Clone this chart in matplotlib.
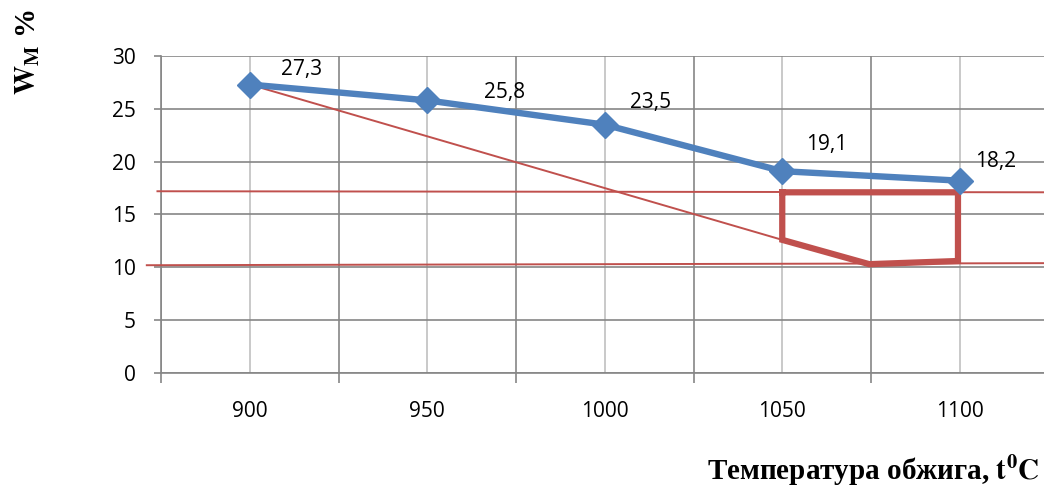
import matplotlib.pyplot as plt
import matplotlib as mpl

# water absorption vs firing temperature
temps = ["900", "950", "1000", "1050", "1100"]
absorption = [27.3, 25.8, 23.5, 19.1, 18.2]
value_labels = ["27,3", "25,8", "23,5", "19,1", "18,2"]

# hand-drawn red overlay (category index, value)
upper_limit_x = [-0.52, 4.6]
upper_limit_y = [17.2, 17.1]
lower_limit_x = [-0.58, 4.6]
lower_limit_y = [10.2, 10.4]
trend_x = [0.0, 3.0]
trend_y = [27.3, 12.6]
zone_x = [3.0, 3.0, 3.49, 3.99, 3.99, 3.0]
zone_y = [17.1, 12.6, 10.3, 10.6, 17.1, 17.1]

mpl.rcParams["mathtext.fontset"] = "stix"

fig = plt.figure(figsize=(10.44, 4.91), dpi=100)
ax = fig.add_axes([161 / 1044, 118 / 491, 887.5 / 1044, 317 / 491])

blue = "#4f81bd"
red = "#c0504d"
x = list(range(len(temps)))

ax.plot(x, absorption, color=blue, linewidth=4.6, marker="D", markersize=13,
        zorder=5, clip_on=False)

# label offsets in points from each marker
offsets = [(37, 11), (56, 6), (33, 16), (32, 19), (26, 14)]
for xi, yi, lab, off in zip(x, absorption, value_labels, offsets):
    ax.annotate(lab, (xi, yi), xytext=off, textcoords="offset points",
                ha="center", va="center", fontsize=15, family="Open Sans",
                zorder=6)

ax.plot(upper_limit_x, upper_limit_y, color=red, linewidth=1.4, clip_on=False, zorder=4)
ax.plot(lower_limit_x, lower_limit_y, color=red, linewidth=1.4, clip_on=False, zorder=4)
ax.plot(trend_x, trend_y, color=red, linewidth=1.4, zorder=4)
ax.plot(zone_x, zone_y, color=red, linewidth=4.5, solid_joinstyle="miter", zorder=4)

ax.set_xlim(-0.5, 4.5)
ax.set_ylim(0, 30)

# boundaries as major ticks, category names on minor ticks
ax.set_xticks([i - 0.5 for i in range(len(temps) + 1)])
ax.set_xticklabels([])
ax.set_xticks(x, minor=True)
ax.set_xticklabels(temps, minor=True, fontsize=15, family="Open Sans")
ax.tick_params(axis="x", which="major", length=7, width=1.2, color="#868686")
ax.tick_params(axis="x", which="minor", length=0, pad=20)

ax.set_yticks(range(0, 31, 5))
ax.set_yticklabels([str(v) for v in range(0, 31, 5)], fontsize=15, family="Open Sans")
ax.tick_params(axis="y", length=5, width=1.2, color="#868686", pad=13)

ax.grid(True, which="major", color="#868686", linewidth=1.2)
ax.grid(True, which="minor", axis="x", color="#c0c0c0", linewidth=1.2)
ax.set_axisbelow(True)

for side in ["top", "right"]:
    ax.spines[side].set_visible(False)
for side in ["left", "bottom"]:
    ax.spines[side].set_color("#868686")
    ax.spines[side].set_linewidth(1.2)

fig.text(28 / 1044, 1 - 52 / 491, r"$\mathbf{W_M}$ %", rotation=90, ha="center",
         va="center", fontsize=21, family="Liberation Serif", fontweight="bold")
fig.text(1040 / 1044, 1 - 470 / 491, r"Температура обжига, $\mathbf{t^0C}$",
         ha="right", va="center", fontsize=21, family="Liberation Serif",
         fontweight="bold")

fig.savefig("out.png", dpi=100)
